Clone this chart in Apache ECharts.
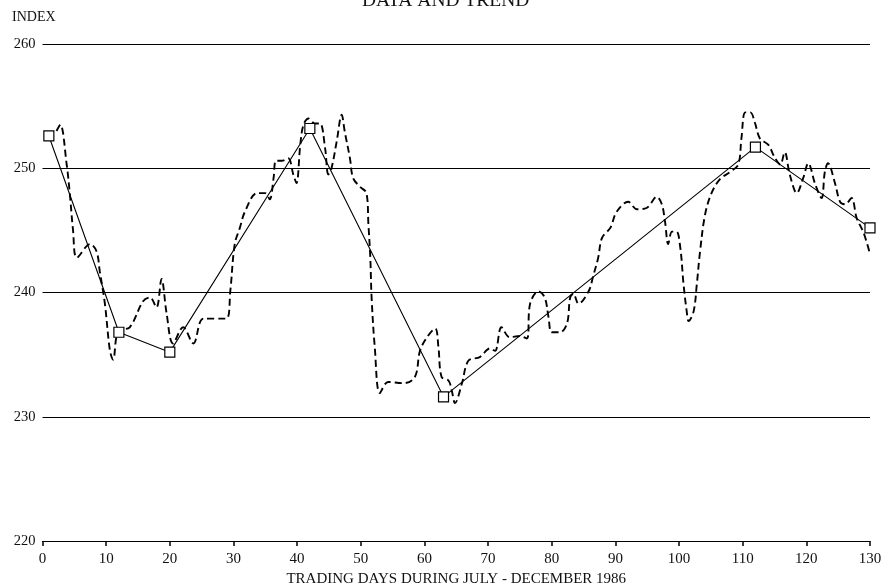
<!DOCTYPE html>
<html>
<head>
<meta charset="utf-8">
<script src="https://cdn.jsdelivr.net/npm/echarts@6/dist/echarts.min.js"></script>
<style>
html,body{margin:0;padding:0;background:#fff;}
#c{width:887px;height:583px;}
</style>
</head>
<body>
<div id="c"></div>
<script>
var titleText = 'DATA AND TREND';
var yName = 'INDEX';
var xName = 'TRADING DAYS DURING JULY - DECEMBER 1986';

var dataDays = [2.2,2.8,3.8,4.3,4.8,5.4,7.5,8.5,9.0,9.8,10.6,11.1,11.9,13.7,15.8,16.9,17.9,18.7,19.5,20.5,22.1,23.7,25.3,28.9,29.5,30.2,31.0,31.8,33.7,35.0,35.7,36.3,36.7,37.6,38.6,39.4,39.9,40.5,41.0,41.8,42.8,43.6,44.4,44.9,45.4,46.2,47.0,47.5,48.3,48.8,49.9,50.9,51.2,51.5,51.7,52.2,53.0,54.3,56.7,58.5,59.3,60.4,61.7,62.2,62.7,63.8,64.3,64.8,65.9,66.9,68.7,70.3,71.1,72.1,73.4,75.0,76.1,76.6,77.9,78.9,79.5,80.0,81.3,82.4,82.9,83.4,84.2,85.8,86.5,87.3,87.9,89.2,90.2,92.0,93.4,94.9,96.5,97.3,97.8,98.3,98.9,99.6,100.2,100.7,101.2,101.5,102.3,102.8,103.3,104.1,105.1,106.4,108.0,109.3,109.8,110.4,111.2,111.9,112.7,114.0,115.1,115.9,116.6,117.4,118.5,119.5,120.3,121.4,122.4,122.9,123.4,124.5,125.3,126.1,127.1,127.9,129.0,130.0];
var dataValues = [253.0,253.5,250.3,247.9,245.0,242.8,243.9,243.3,241.7,239.1,235.3,234.6,236.9,237.2,239.3,239.6,238.8,241.1,238.3,235.9,237.2,235.9,237.9,237.9,240.1,243.9,245.2,246.5,248.0,248.0,247.5,249.2,250.6,250.6,250.8,249.5,248.8,251.9,253.5,254.0,253.6,253.6,251.6,249.5,250.0,252.1,254.3,252.9,250.8,249.2,248.5,248.0,245.5,242.8,239.6,235.6,231.9,232.8,232.7,233.2,235.3,236.4,237.1,235.6,233.2,232.9,232.1,231.1,232.7,234.5,234.8,235.5,235.3,237.2,236.4,236.5,236.3,239.1,240.1,239.6,238.0,236.8,236.8,237.5,239.6,239.9,239.1,240.1,241.3,242.8,244.4,245.2,246.5,247.3,246.7,246.8,247.7,247.1,245.7,243.9,244.9,244.9,243.6,240.7,238.5,237.7,238.5,240.7,243.3,246.3,248.0,249.1,249.7,250.3,252.4,254.5,254.5,253.7,252.4,251.9,250.8,250.3,251.3,249.5,248.0,249.2,250.4,248.7,247.6,249.7,250.4,248.8,247.3,247.1,247.6,246.0,244.8,243.1];

var trendDays = [1,12,20,42,63,112,130];
var trendValues = [252.6,236.8,235.2,253.2,231.6,251.7,245.2];

var xTicks = [0,10,20,30,40,50,60,70,80,90,100,110,120,130];
var yTicks = [220,230,240,250,260];

function zip(a,b){var r=[];for(var i=0;i<a.length;i++)r.push([a[i],b[i]]);return r;}

var font = '"Liberation Serif","DejaVu Serif",serif';
var chart = echarts.init(document.getElementById('c'), null, {renderer:'canvas'});
chart.setOption({
  backgroundColor:'#fff',
  animation:false,
  grid:{left:42.5,right:17,top:44,bottom:42,containLabel:false,outerBoundsMode:'none'},
  graphic:[
    {type:'text',left:362,top:-9,style:{text:titleText,font:'19.5px '+font,fill:'#111'}},
    {type:'text',left:12,top:10,style:{text:yName,font:'14px '+font,fill:'#111'}}
  ],
  xAxis:{
    type:'value',min:xTicks[0],max:xTicks[xTicks.length-1],interval:10,
    name:xName,nameLocation:'middle',nameGap:29,
    nameTextStyle:{fontFamily:font,fontSize:15,color:'#111'},
    axisLine:{show:true,lineStyle:{color:'#000',width:1.2}},
    axisTick:{show:true,length:5,lineStyle:{color:'#000',width:1.5}},
    axisLabel:{fontFamily:font,fontSize:15,color:'#111',margin:11},
    splitLine:{show:false}
  },
  yAxis:{
    type:'value',min:yTicks[0],max:yTicks[yTicks.length-1],interval:10,
    axisLine:{show:false},axisTick:{show:false},
    axisLabel:{fontFamily:font,fontSize:14.5,color:'#111',margin:7,verticalAlign:'middle',padding:[0,0,10,0]},
    splitLine:{show:true,lineStyle:{color:'#000',width:1.1}}
  },
  series:[
    {
      type:'line',data:zip(dataDays,dataValues),smooth:0.35,showSymbol:false,
      lineStyle:{color:'#000',width:1.9,type:[7,4]},z:3
    },
    {
      type:'line',data:zip(trendDays,trendValues),smooth:false,
      symbol:'rect',symbolSize:10,showSymbol:true,
      itemStyle:{color:'#fff',borderColor:'#000',borderWidth:1.2},
      lineStyle:{color:'#000',width:1.1},z:4
    }
  ]
});
</script>
</body>
</html>
